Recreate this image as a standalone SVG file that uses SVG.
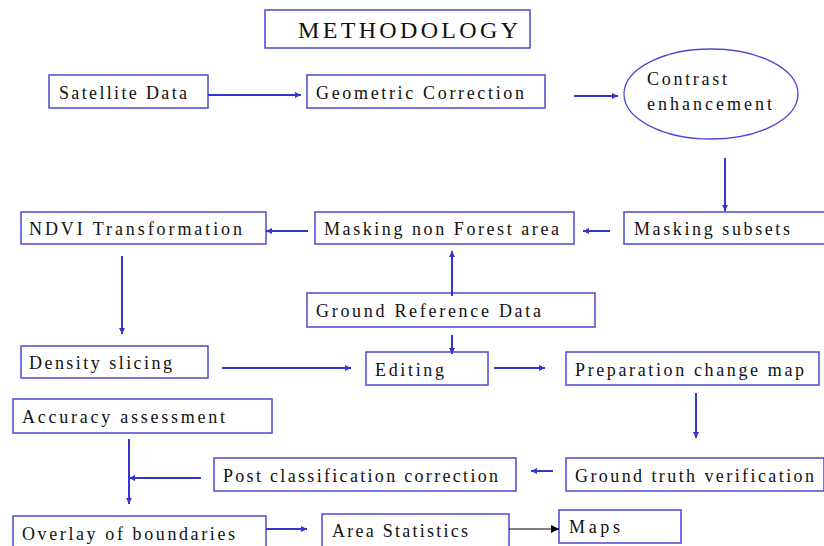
<svg xmlns="http://www.w3.org/2000/svg" width="824" height="546" viewBox="0 0 824 546">
<style>
.box{fill:#fff;stroke:#4a4ad8;stroke-width:1.5}
.t{font-family:"Liberation Serif","Times New Roman",serif;font-size:18px;fill:#111}
.c{stroke:#3535cc;stroke-width:2;fill:none;marker-end:url(#ah)}
.k{stroke:#000;stroke-width:1.2;fill:none;marker-end:url(#ak)}
</style>
<defs>
<marker id="ah" viewBox="0 0 10 10" refX="10" refY="5" markerWidth="6" markerHeight="6" orient="auto" markerUnits="userSpaceOnUse"><path d="M0,0 L10,5 L0,10 Z" fill="#3535cc"/></marker>
<marker id="ak" viewBox="0 0 10 10" refX="10" refY="5" markerWidth="9" markerHeight="8" orient="auto" markerUnits="userSpaceOnUse"><path d="M0,0 L10,5 L0,10 Z" fill="#000"/></marker>
</defs>
<rect width="824" height="546" fill="#fff"/>
<g id="title"><rect class="box" x="265" y="10" width="265" height="38"/><text class="t" x="298" y="38" style="font-size:24px" textLength="220" lengthAdjust="spacing">METHODOLOGY</text></g>
<g id="satellite"><rect class="box" x="49" y="75" width="159" height="33"/><text class="t" x="59" y="99" textLength="128" lengthAdjust="spacing">Satellite Data</text></g>
<g id="geometric"><rect class="box" x="307" y="75" width="238" height="33"/><text class="t" x="316" y="99" textLength="208" lengthAdjust="spacing">Geometric Correction</text></g>
<g id="contrast"><ellipse cx="711" cy="94" rx="87" ry="45" fill="#fff" stroke="#4a4ad8" stroke-width="1.3"/><text class="t" x="647" y="85" textLength="80" lengthAdjust="spacing">Contrast</text><text class="t" x="647" y="110" textLength="125" lengthAdjust="spacing">enhancement</text></g>
<g id="masksub"><rect class="box" x="624" y="212" width="210" height="32"/><text class="t" x="634" y="235" textLength="156" lengthAdjust="spacing">Masking subsets</text></g>
<g id="masknf"><rect class="box" x="315" y="212" width="259" height="32"/><text class="t" x="324" y="235" textLength="235" lengthAdjust="spacing">Masking non Forest area</text></g>
<g id="ndvi"><rect class="box" x="21" y="212" width="245" height="32"/><text class="t" x="29" y="235" textLength="213" lengthAdjust="spacing">NDVI Transformation</text></g>
<g id="grd"><rect class="box" x="307" y="293" width="288" height="34"/><text class="t" x="316" y="317" textLength="225" lengthAdjust="spacing">Ground Reference Data</text></g>
<g id="density"><rect class="box" x="21" y="346" width="187" height="32"/><text class="t" x="29" y="369" textLength="143" lengthAdjust="spacing">Density slicing</text></g>
<g id="editing"><rect class="box" x="366" y="352" width="122" height="33"/><text class="t" x="375" y="376" textLength="69" lengthAdjust="spacing">Editing</text></g>
<g id="prep"><rect class="box" x="566" y="352" width="253" height="33"/><text class="t" x="575" y="376" textLength="229" lengthAdjust="spacing">Preparation change map</text></g>
<g id="accuracy"><rect class="box" x="13" y="399" width="259" height="34"/><text class="t" x="22" y="423" textLength="203" lengthAdjust="spacing">Accuracy assessment</text></g>
<g id="post"><rect class="box" x="214" y="458" width="302" height="33"/><text class="t" x="223" y="482" textLength="275" lengthAdjust="spacing">Post classification correction</text></g>
<g id="gtv"><rect class="box" x="566" y="458" width="258" height="33"/><text class="t" x="575" y="482" textLength="239" lengthAdjust="spacing">Ground truth verification</text></g>
<g id="overlay"><rect class="box" x="13" y="516" width="253" height="40"/><text class="t" x="22" y="540" textLength="213" lengthAdjust="spacing">Overlay of boundaries</text></g>
<g id="area"><rect class="box" x="322" y="514" width="187" height="40"/><text class="t" x="332" y="537" textLength="136" lengthAdjust="spacing">Area Statistics</text></g>
<g id="maps"><rect class="box" x="559" y="510" width="122" height="33"/><text class="t" x="569" y="533" textLength="51" lengthAdjust="spacing">Maps</text></g>
<g id="connectors">
<line class="c" x1="208" y1="95" x2="301" y2="95"/>
<line class="c" x1="574" y1="96" x2="618" y2="96"/>
<line class="c" x1="725" y1="158" x2="725" y2="211"/>
<line class="c" x1="610" y1="231" x2="583" y2="231"/>
<line class="c" x1="308" y1="231" x2="266" y2="231"/>
<line class="c" x1="122" y1="256" x2="122" y2="334"/>
<line class="c" x1="452" y1="296" x2="452" y2="251"/>
<line class="c" x1="452" y1="335" x2="452" y2="354"/>
<line class="c" x1="222" y1="368" x2="351" y2="368"/>
<line class="c" x1="494" y1="368" x2="545" y2="368"/>
<line class="c" x1="696" y1="393" x2="696" y2="438"/>
<line class="c" x1="553" y1="471" x2="531" y2="471"/>
<line class="c" x1="201" y1="478" x2="129" y2="478"/>
<line class="c" x1="129" y1="439" x2="129" y2="504"/>
<line class="c" x1="266" y1="529" x2="307" y2="529"/>
<line class="k" x1="509" y1="529" x2="559" y2="529"/>
</g>
</svg>
